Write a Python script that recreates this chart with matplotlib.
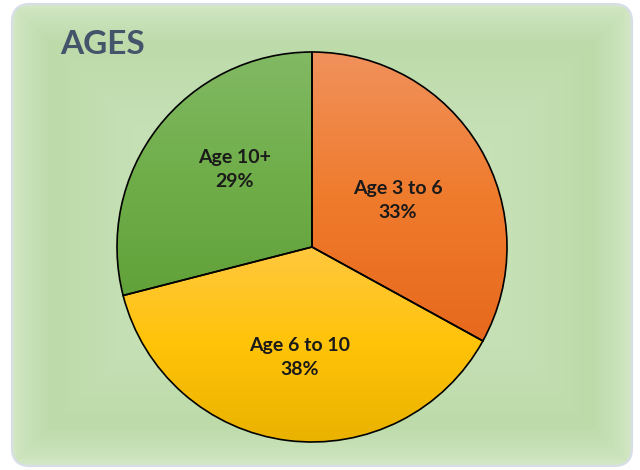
import numpy as np
import matplotlib
matplotlib.use("Agg")
import matplotlib.pyplot as plt
from matplotlib.patches import FancyBboxPatch
from matplotlib.colors import to_rgb

# datos del grafico
categorias = ["Age 3 to 6", "Age 6 to 10", "Age 10+"]
valores = [33, 38, 29]
colores_arriba = ["#f1915c", "#ffc83f", "#82b964"]
colores_medio = ["#ef7b2d", "#ffc308", "#70ae4a"]
colores_abajo = ["#e7691d", "#e9b200", "#62a23a"]

titulo = "AGES"

# pequeños ajustes de las etiquetas (px)
ajustes = [(-5, -7), (1, -6), (6, 13)]

W, H = 640, 470

fig = plt.figure(figsize=(W / 100, H / 100), dpi=100)
fig.patch.set_facecolor("white")
ax = fig.add_axes([0, 0, 1, 1])

# fondo verde con borde redondeado
caja = FancyBboxPatch((12, 4), 620, 462, boxstyle="round,pad=0,rounding_size=18",
                      fc="none", ec="#d8dee8", lw=1.6, zorder=1.5, transform=ax.transData)
ax.add_patch(caja)

yy, xx = np.mgrid[0:H, 0:W] + 0.5
d = np.minimum.reduce([xx - 12, 632 - xx, yy - 4, 466 - yy]).clip(0)
w = np.interp(d, [0, 8, 40, 90, 200], [0.0, 0.35, 1.0, 0.75, 0.35])[..., None]
claro = np.array(to_rgb("#d6e9ca"))
oscuro = np.array(to_rgb("#bcdba9"))
fondo = claro * (1 - w) + oscuro * w
img = ax.imshow(fondo, extent=[0, W, 0, H], origin="lower", zorder=1)
img.set_clip_path(caja)

# pastel
total = sum(valores)
etiquetas = [f"{c}\n{v / total * 100:.0f}%" for c, v in zip(categorias, valores)]
wedges, textos = ax.pie(valores, labels=etiquetas, startangle=90, counterclock=False,
                        center=(312, 223), radius=195, labeldistance=0.54, frame=True,
                        wedgeprops=dict(edgecolor="black", linewidth=1.2),
                        textprops=dict(fontsize=14, fontweight="bold", color="#1a1a1a",
                                       family=["Lato", "DejaVu Sans"], linespacing=1.45))

t = np.linspace(0, 1, 256)
for cuña, c_top, c_mid, c_bot in zip(wedges, colores_arriba, colores_medio, colores_abajo):
    v = cuña.get_path().vertices
    x0, x1 = v[:, 0].min(), v[:, 0].max()
    y0, y1 = v[:, 1].min(), v[:, 1].max()
    stops = np.array([to_rgb(c_bot), to_rgb(c_mid), to_rgb(c_top)])
    grad = np.stack([np.interp(t, [0, 0.5, 1], stops[:, k]) for k in range(3)], axis=-1)[:, None, :]
    im = ax.imshow(grad, extent=[x0, x1, y0, y1], origin="lower", aspect="auto", zorder=2)
    im.set_clip_path(cuña)
    cuña.set_facecolor("none")
    cuña.set_zorder(3)

for txt, (dx, dy) in zip(textos, ajustes):
    x, y = txt.get_position()
    txt.set_position((x + dx, y + dy))
    txt.set_ha("center")
    txt.set_va("center")
    txt.set_zorder(4)

ax.text(60, 425, titulo, fontsize=24, fontweight="bold", color="#44546a",
        family=["Lato", "DejaVu Sans"], ha="left", va="center", zorder=4)

ax.set_xlim(0, W)
ax.set_ylim(0, H)
ax.set_aspect("auto")
ax.axis("off")

fig.savefig("out.png", dpi=100)
